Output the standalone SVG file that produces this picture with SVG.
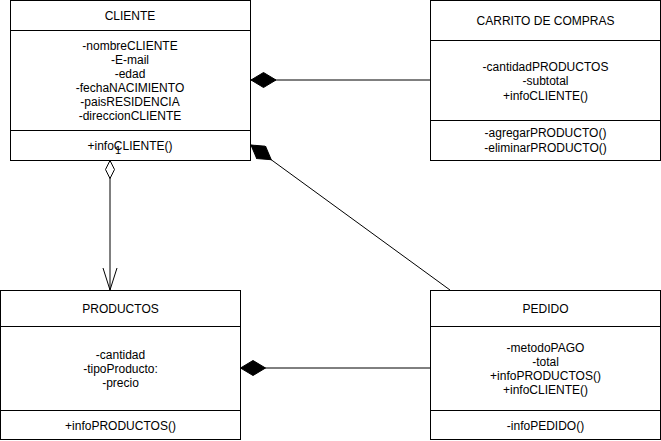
<svg xmlns="http://www.w3.org/2000/svg" width="661" height="441" viewBox="0 0 661 441">
<style>
.box{fill:#fff;stroke:#000;stroke-width:1}
.sep{stroke:#000;stroke-width:1}
text{font-family:"Liberation Sans",Arial,sans-serif;font-size:12px;fill:#000;text-anchor:middle}
.lbl{font-size:11px;text-anchor:start}
.edge{fill:none;stroke:#000;stroke-width:1}
</style>
<defs>
<marker id="fdia" markerUnits="userSpaceOnUse" viewBox="0 -8 26 16" refX="0" refY="0" markerWidth="26" markerHeight="16" orient="auto">
<path d="M0,0 L12.5,-7.5 L25,0 L12.5,7.5 Z" fill="#000" stroke="#000" stroke-width="1"/>
</marker>
<marker id="odia" markerUnits="userSpaceOnUse" viewBox="-1 -6 21 12" refX="0" refY="0" markerWidth="21" markerHeight="12" orient="auto">
<path d="M0,0 L9,-4.5 L18,0 L9,4.5 Z" fill="#fff" stroke="#000" stroke-width="1"/>
</marker>
<marker id="oarr" markerUnits="userSpaceOnUse" viewBox="-24 -9 26 18" refX="0" refY="0" markerWidth="26" markerHeight="18" orient="auto">
<path d="M-22,-7 L0,0 L-22,7" fill="none" stroke="#000" stroke-width="1"/>
</marker>
</defs>

<g id="connectors">
<path class="edge" d="M251,80 L431,80" marker-start="url(#fdia)"/>
<path class="edge" d="M251,145 L450,290" marker-start="url(#fdia)"/>
<path class="edge" d="M110,160.5 L110,290" marker-start="url(#odia)" marker-end="url(#oarr)"/>
<path class="edge" d="M240.5,368 L430,368" stroke="#7f7f7f" marker-start="url(#fdia)"/>
</g>

<g id="cliente">
<rect class="box" x="10.5" y="0.5" width="240" height="160"/>
<line class="sep" x1="10.5" y1="30.5" x2="250.5" y2="30.5"/>
<line class="sep" x1="10.5" y1="130.5" x2="250.5" y2="130.5"/>
<text x="130" y="20">CLIENTE</text>
<text x="130" y="49.7">-nombreCLIENTE</text>
<text x="130" y="63.7">-E-mail</text>
<text x="130" y="77.7">-edad</text>
<text x="130" y="91.7">-fechaNACIMIENTO</text>
<text x="130" y="105.7">-paisRESIDENCIA</text>
<text x="130" y="119.7">-direccionCLIENTE</text>
<text x="130" y="149.8">+infoCLIENTE()</text>
</g>

<g id="edge-label">
<text class="lbl" x="115" y="154">1</text>
</g>

<g id="carrito">
<rect class="box" x="430.5" y="0.5" width="230" height="160"/>
<line class="sep" x1="430.5" y1="40.5" x2="660.5" y2="40.5"/>
<line class="sep" x1="430.5" y1="120.5" x2="660.5" y2="120.5"/>
<text x="545.5" y="25">CARRITO DE COMPRAS</text>
<text x="545.5" y="71">-cantidadPRODUCTOS</text>
<text x="545.5" y="85">-subtotal</text>
<text x="545.5" y="99.5">+infoCLIENTE()</text>
<text x="545.5" y="137">-agregarPRODUCTO()</text>
<text x="545.5" y="152">-eliminarPRODUCTO()</text>
</g>

<g id="productos">
<rect class="box" x="0.5" y="290.5" width="240" height="149"/>
<line class="sep" x1="0.5" y1="326.5" x2="240.5" y2="326.5"/>
<line class="sep" x1="0.5" y1="410.5" x2="240.5" y2="410.5"/>
<text x="120.5" y="312.5">PRODUCTOS</text>
<text x="120.5" y="358.5">-cantidad</text>
<text x="120.5" y="372.5">-tipoProducto:</text>
<text x="120.5" y="386.5">-precio</text>
<text x="120.5" y="429.5">+infoPRODUCTOS()</text>
</g>

<g id="pedido">
<rect class="box" x="430.5" y="290.5" width="230" height="149"/>
<line class="sep" x1="430.5" y1="326.5" x2="660.5" y2="326.5"/>
<line class="sep" x1="430.5" y1="410.5" x2="660.5" y2="410.5"/>
<text x="545.5" y="312.5">PEDIDO</text>
<text x="545.5" y="351.5">-metodoPAGO</text>
<text x="545.5" y="365.5">-total</text>
<text x="545.5" y="379.5">+infoPRODUCTOS()</text>
<text x="545.5" y="393.5">+infoCLIENTE()</text>
<text x="545.5" y="429.5">-infoPEDIDO()</text>
</g>
</svg>
